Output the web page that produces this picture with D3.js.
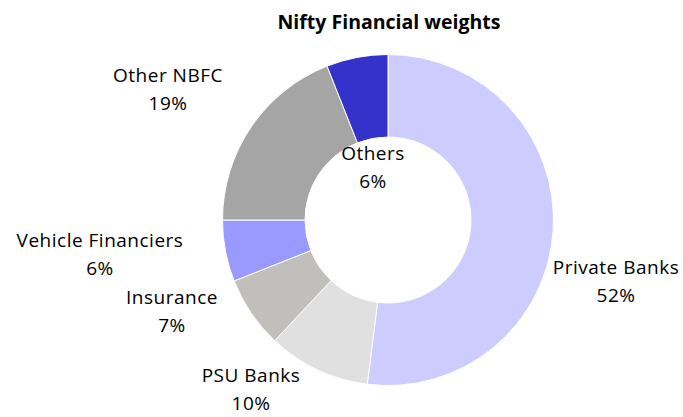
<!DOCTYPE html>
<html><head><meta charset="utf-8">
<script src="https://cdn.jsdelivr.net/npm/d3@7"></script>
<style>html,body{margin:0;padding:0;background:#fff;}svg{display:block;}</style>
</head><body>
<svg id="c" width="683" height="417"></svg>
<script>
const categories = ["Private Banks","PSU Banks","Insurance","Vehicle Financiers","Other NBFC","Others"];
const values = [52,10,7,6,19,6];
const colors = ["#ccccff","#e0e0e0","#c0bfbb","#9999ff","#a6a5a5","#3333cc"];
// label anchor layout (centre of the two-line label)
const labelPos = [[616,281],[251,389],[172,311],[100,254],[168,89],[373,167]];

const svg = d3.select("#c");
const font = "'Open Sans', sans-serif";
svg.append("text").attr("x",389).attr("y",29).attr("text-anchor","middle")
  .attr("font-family",font).attr("font-weight","bold").attr("font-size",19.5)
  .attr("fill","#000").text("Nifty Financial weights");

const cx=388, cy=220, R=165.5, r=83;
const pie = d3.pie().sort(null).value(d=>d)(values);
const arc = d3.arc().innerRadius(r).outerRadius(R);
const g = svg.append("g").attr("transform",`translate(${cx},${cy})`);
g.selectAll("path").data(pie).join("path").attr("d",arc).attr("fill",(d,i)=>colors[i])
  .attr("stroke","#fff").attr("stroke-width",1);

const lg = svg.append("g");
categories.forEach((c,i)=>{
  const t = lg.append("text").attr("text-anchor","middle").attr("font-family",font)
    .attr("font-size",19).attr("letter-spacing",0.5).attr("fill","#000");
  t.append("tspan").attr("x",labelPos[i][0]).attr("y",labelPos[i][1]-7).text(c);
  t.append("tspan").attr("x",labelPos[i][0]).attr("y",labelPos[i][1]+21).text(values[i]+"%");
});
</script>
</body></html>
